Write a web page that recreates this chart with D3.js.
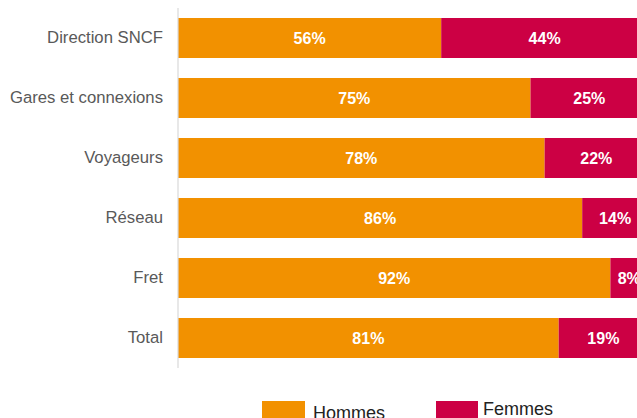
<!DOCTYPE html>
<html><head><meta charset="utf-8">
<script src="https://cdn.jsdelivr.net/npm/d3@7"></script>
<style>html,body{margin:0;padding:0;background:#fff;overflow:hidden}svg{display:block}</style>
</head><body>
<svg id="c" width="637" height="418"></svg>
<script>
const categories = ["Direction SNCF","Gares et connexions","Voyageurs","Réseau","Fret","Total"];
const hommes = [56,75,78,86,92,81];
const femmes = [44,25,22,14,8,19];
const seriesNames = ["Hommes","Femmes"];
const colors = ["#F29100","#CC0044"];

const svg = d3.select("#c");
const x = d3.scaleLinear().domain([0,100]).range([178,648]);
const y = d3.scaleBand().domain(categories).range([8,368]).paddingInner(1/3).paddingOuter(1/6);

const rows = categories.map((c,i)=>({cat:c, vals:[hommes[i], femmes[i]]}));
const stacked = [];
rows.forEach(r=>{
  let acc=0;
  r.vals.forEach((v,k)=>{stacked.push({cat:r.cat,k,x0:acc,x1:acc+v,v}); acc+=v;});
});

svg.selectAll("rect.bar").data(stacked).join("rect")
  .attr("class","bar")
  .attr("x",d=>x(d.x0)).attr("width",d=>x(d.x1)-x(d.x0))
  .attr("y",d=>y(d.cat)).attr("height",y.bandwidth())
  .attr("fill",d=>colors[d.k]);

svg.selectAll("text.val").data(stacked).join("text")
  .attr("class","val")
  .attr("x",d=>(x(d.x0)+x(d.x1))/2)
  .attr("y",d=>y(d.cat)+y.bandwidth()/2)
  .attr("dy","0.36em")
  .attr("text-anchor","middle")
  .attr("font-family","Liberation Sans, Arial, sans-serif")
  .attr("font-weight","bold").attr("font-size","16px").attr("fill","#fff")
  .text(d=>d.v+"%");

// y axis
const yAxis = d3.axisLeft(y).tickSize(0).tickPadding(15);
const ga = svg.append("g").attr("transform","translate(178,0)").call(yAxis);
ga.select(".domain").attr("stroke","#d9d9d9").attr("stroke-width",1.2).attr("d","M0,8V368");
ga.selectAll("text").attr("font-family","Liberation Sans, Arial, sans-serif")
  .attr("font-size","16.7px").attr("fill","#595959");

// legend
const leg = [{x:262,tx:313,ty:419},{x:436,tx:483,ty:415}];
seriesNames.forEach((n,i)=>{
  svg.append("rect").attr("x",leg[i].x).attr("y",401).attr("width",i?42:43).attr("height",20).attr("fill",colors[i]);
  svg.append("text").attr("x",leg[i].tx).attr("y",leg[i].ty)
    .attr("font-family","Liberation Sans, Arial, sans-serif").attr("font-size","18px").attr("fill","#222")
    .text(n);
});
</script>
</body></html>
